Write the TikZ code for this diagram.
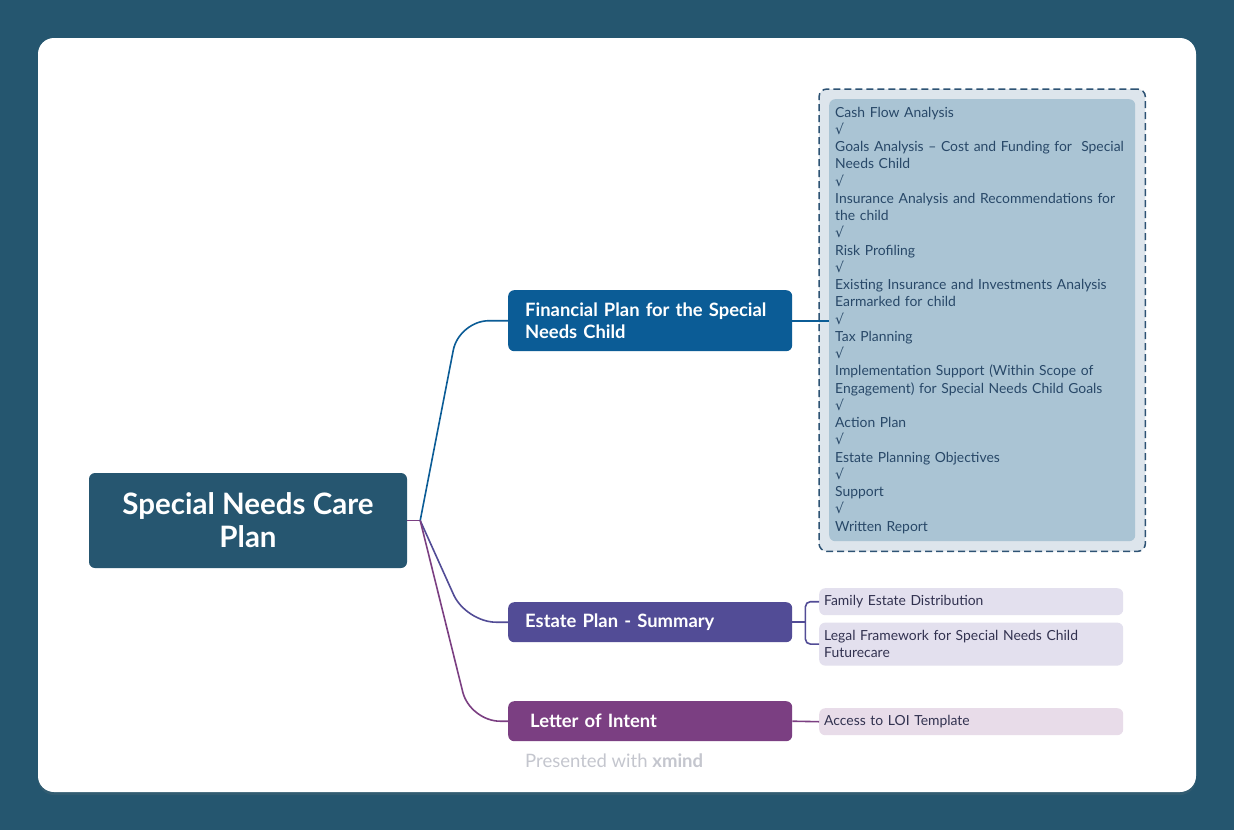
\documentclass[tikz,border=0pt]{standalone}
\usepackage{fontspec}
\setmainfont{Lato}
\newfontfamily\checkfont{DejaVu Sans}
\usetikzlibrary{positioning, fit, backgrounds, shadows}
\definecolor{pageTeal}{RGB}{37,86,111}
\definecolor{rootTeal}{RGB}{38,86,112}
\definecolor{finBlue}{RGB}{11,92,150}
\definecolor{estateViolet}{RGB}{82,76,150}
\definecolor{letterPlum}{RGB}{123,63,130}
\definecolor{itemFill}{RGB}{170,196,212}
\definecolor{frameLine}{RGB}{46,83,116}
\definecolor{frameFill}{RGB}{221,229,236}
\definecolor{itemText}{RGB}{40,72,104}
\definecolor{leafText}{RGB}{50,50,80}
\definecolor{estateLeaf}{RGB}{227,224,238}
\definecolor{letterLeaf}{RGB}{232,220,233}
\definecolor{footGray}{RGB}{196,198,206}
\newcommand{\tick}{{\checkfont\fontsize{14}{17}\selectfont √}}

\begin{document}
\begin{tikzpicture}[x=1pt, y=-1pt,
    root/.style={rounded corners=6pt, fill=rootTeal, text=white, align=center,
        font=\fontsize{29.5}{33}\selectfont\bfseries, minimum width=318pt, minimum height=95pt},
    branch/.style={rounded corners=6pt, text=white, align=left, anchor=north west,
        font=\fontsize{18.4}{21.5}\selectfont\bfseries, text width=250pt, inner xsep=17pt, minimum height=40pt},
    leaf/.style={rounded corners=6pt, text=leafText, align=left, anchor=north west,
        font=\fontsize{13.9}{17}\selectfont, text width=294pt, inner xsep=5pt, inner ysep=5pt, minimum height=27pt},
    link/.style={line width=1.6pt, rounded corners=30pt}
]
    \useasboundingbox (0,0) rectangle (1234,830);
    \begin{scope}[on background layer]
        \fill[pageTeal] (0,0) rectangle (1234,830);
        \fill[white, rounded corners=16pt, drop shadow={opacity=0.15, shadow xshift=0pt, shadow yshift=-3pt}]
            (38,38) rectangle (1196,792);
    \end{scope}

    \node[root] (root) at (248,520.5) {Special Needs Care\\Plan};
    \coordinate (hub) at ([xshift=13pt]root.east);

    \node[branch, fill=finBlue, minimum height=61pt] (fin) at (508,290) {Financial Plan for the Special\\Needs Child};
    \node[branch, fill=estateViolet] (estate) at (508,602) {Estate Plan - Summary};
    \node[branch, fill=letterPlum, inner xsep=22pt, text width=240pt] (letter) at (508,701) {Letter of Intent};

    % checklist of the financial plan
    \node[rounded corners=6pt, fill=itemFill, text=itemText, align=left, anchor=north west,
        font=\fontsize{13.9}{17.25}\selectfont, text width=294pt, inner xsep=6pt, minimum height=442pt]
        (items) at (829,99) {Cash Flow Analysis\\ \tick\\
        Goals Analysis – Cost and Funding for~ Special\\Needs Child\\ \tick\\
        Insurance Analysis and Recommendations for\\the child\\ \tick\\
        Risk Profiling\\ \tick\\
        Existing Insurance and Investments Analysis\\Earmarked for child\\ \tick\\
        Tax Planning\\ \tick\\
        Implementation Support (Within Scope of\\Engagement) for Special Needs Child Goals\\ \tick\\
        Action Plan\\ \tick\\
        Estate Planning Objectives\\ \tick\\
        Support\\ \tick\\
        Written Report};
    \begin{scope}[on background layer]
        \node[fit=(items), inner sep=10pt, rounded corners=8pt, draw=frameLine, fill=frameFill,
            line width=1.5pt, dash pattern=on 7pt off 4pt] (frame) {};
    \end{scope}

    \node[leaf, fill=estateLeaf] (family) at (819,588) {Family Estate Distribution};
    \node[leaf, fill=estateLeaf, below=7pt of family, minimum height=43pt] (legal) {Legal Framework for Special Needs Child\\Futurecare};
    \node[leaf, fill=letterLeaf] (loi) at (819,708) {Access to LOI Template};

    \node[anchor=west, text=footGray, font=\fontsize{18.5}{21}\selectfont, inner sep=0pt] (credit) at (525,761)
        {Presented with \textbf{xmind}};

    % connectors
    \draw[letterPlum, line width=1.6pt] (root.east) -- (hub);
    \draw[link, finBlue] (hub) -- ([xshift=-49pt]fin.west) -- (fin.west);
    \draw[link, estateViolet] (hub) -- ([xshift=-42pt]estate.west) -- (estate.west);
    \draw[link, letterPlum] (hub) -- ([xshift=-38pt]letter.west) -- (letter.west);

    \draw[finBlue, line width=1.6pt] (fin.east) -- (fin.east -| items.west);
    \coordinate (ejoint) at ([xshift=13pt]estate.east);
    \draw[estateViolet, line width=1.6pt] (estate.east) -- (ejoint);
    \draw[estateViolet, line width=1.6pt, rounded corners=5pt] (family.west) -| (ejoint) |- (legal.west);
    \draw[letterPlum, line width=1.6pt] (letter.east) -- (loi.west);
\end{tikzpicture}
\end{document}
